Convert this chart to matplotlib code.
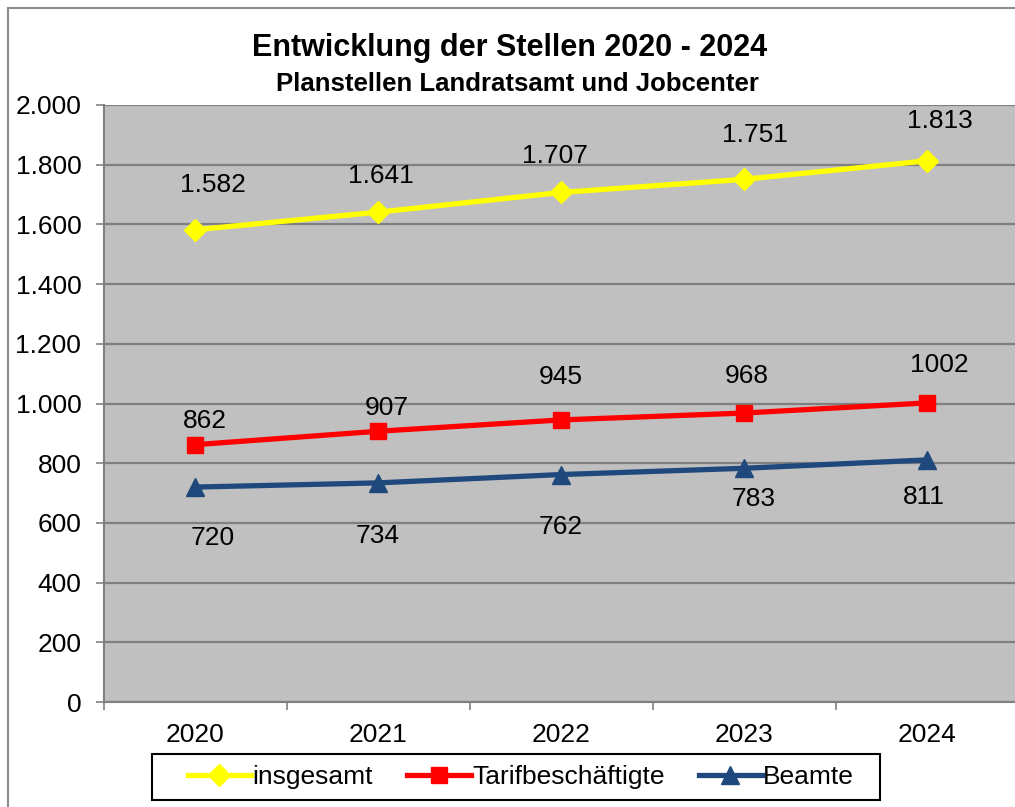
import matplotlib
matplotlib.use('Agg')
import matplotlib.pyplot as plt
from matplotlib.patches import Rectangle
from matplotlib.ticker import FuncFormatter
import numpy as np

plt.rcParams['font.family'] = ['Liberation Sans', 'DejaVu Sans']

years = ['2020', '2021', '2022', '2023', '2024']
insgesamt = [1582, 1641, 1707, 1751, 1813]
tarif = [862, 907, 945, 968, 1002]
beamte = [720, 734, 762, 783, 811]
lbl_insg = ['1.582', '1.641', '1.707', '1.751', '1.813']
lbl_tarif = ['862', '907', '945', '968', '1002']
lbl_beamte = ['720', '734', '762', '783', '811']

# label offsets in points (dx, dy), roughly as placed in the original
off_insg = [(13, 32), (2, 26), (-4, 26), (8, 32), (9, 29)]
off_tarif = [(7, 17), (6, 17), (0, 31), (2, 27), (9, 27)]
off_beamte = [(13, -37), (0, -38), (0, -38), (7, -22), (-2, -27)]

fs = 19

fig = plt.figure(figsize=(10.15, 8.07), dpi=100)
ax = fig.add_axes([103.5 / 1015, 105 / 807, 915 / 1015, 597 / 807])
ax.set_facecolor('#C0C0C0')

# outer chart border (cut at right and bottom as in the original)
fig.patches.append(Rectangle((8 / 1015, -0.1), 1.2, (807 - 8) / 807 + 0.1,
                             transform=fig.transFigure, fill=False,
                             edgecolor='#8C8C8C', linewidth=1.5))

x = np.arange(len(years))
ax.plot(x, insgesamt, color='#FFFF00', lw=3.8, marker='D', ms=11, label='insgesamt')
ax.plot(x, tarif, color='#FF0000', lw=3.8, marker='s', ms=12, label='Tarifbeschäftigte')
ax.plot(x, beamte, color='#1F497D', lw=3.8, marker='^', ms=13, label='Beamte')

for vals, lbls, offs in [(insgesamt, lbl_insg, off_insg), (tarif, lbl_tarif, off_tarif),
                         (beamte, lbl_beamte, off_beamte)]:
    for i in range(len(vals)):
        ax.annotate(lbls[i], (x[i], vals[i]), xytext=offs[i], textcoords='offset points',
                    ha='center', va='center', fontsize=fs, color='black')

ax.set_xlim(-0.5, 4.5)
ax.set_ylim(0, 2000)
ax.set_yticks(np.arange(0, 2001, 200))
ax.yaxis.set_major_formatter(FuncFormatter(lambda v, p: '{:,.0f}'.format(v).replace(',', '.')))
ax.grid(axis='y', color='#808080', lw=1.6)
ax.set_axisbelow(True)

ax.set_xticks(x)
ax.set_xticklabels(years)
ax.set_xticks(np.arange(-0.5, 5, 1), minor=True)
ax.tick_params(axis='x', which='major', length=0, pad=15, labelsize=fs)
ax.tick_params(axis='x', which='minor', length=6, width=1.2, color='#808080', direction='out')
ax.tick_params(axis='y', length=6, width=1.2, color='#808080', pad=10, labelsize=fs)

for s in ['top', 'right']:
    ax.spines[s].set_visible(False)
for s in ['left', 'bottom']:
    ax.spines[s].set_color('#808080')
    ax.spines[s].set_linewidth(1.5)

fig.text(510 / 1015, 1 - 48 / 807, 'Entwicklung der Stellen 2020 - 2024', ha='center', va='center',
         fontsize=22, fontweight='bold')
fig.text(517 / 1015, 1 - 84 / 807, 'Planstellen Landratsamt und Jobcenter', ha='center', va='center',
         fontsize=18.5, fontweight='bold')

# legend box drawn separately so it can be wider than the entries
fig.patches.append(Rectangle((152 / 1015, 1 - 800 / 807), 728 / 1015, 46 / 807,
                             transform=fig.transFigure, fill=False,
                             edgecolor='black', linewidth=1.5))
leg = fig.legend(loc='center', bbox_to_anchor=(521 / 1015, 1 - 777 / 807), ncol=3, fontsize=fs,
                 frameon=False, handlelength=2.4, handletextpad=0.05, columnspacing=1.3,
                 borderpad=0.3, borderaxespad=0)

fig.savefig('out.png', dpi=100)
